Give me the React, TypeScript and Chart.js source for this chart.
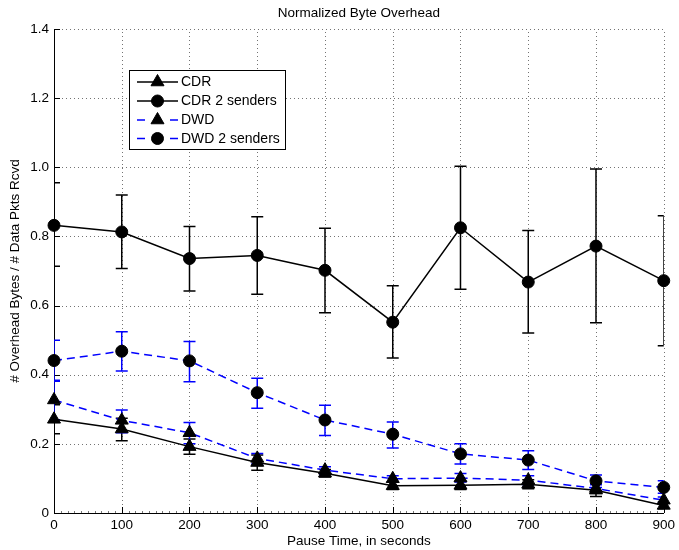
import React, { useEffect, useRef } from 'react';
import { Chart, registerables } from 'chart.js';

Chart.register(...registerables);

// ---- data ----
const pauseTimes = [0, 100, 200, 300, 400, 500, 600, 700, 800, 900];
const yTicks = [0, 0.2, 0.4, 0.6, 0.8, 1, 1.2, 1.4];

const cdr = [0.271, 0.243, 0.192, 0.146, 0.115, 0.079, 0.080, 0.083, 0.066, 0.022];
const cdrLow = [0.229, 0.209, 0.170, 0.124, 0.104, 0.068, 0.068, 0.070, 0.048, 0.012];
const cdrHigh = [0.313, 0.274, 0.214, 0.168, 0.126, 0.090, 0.092, 0.096, 0.084, 0.032];

const cdr2 = [0.832, 0.813, 0.736, 0.745, 0.702, 0.552, 0.825, 0.668, 0.772, 0.672];
const cdr2Low = [0.714, 0.707, 0.642, 0.633, 0.579, 0.448, 0.647, 0.521, 0.550, 0.484];
const cdr2High = [0.955, 0.920, 0.829, 0.857, 0.824, 0.657, 1.003, 0.817, 0.995, 0.860];

const dwd = [0.327, 0.268, 0.232, 0.158, 0.124, 0.099, 0.101, 0.095, 0.071, 0.037];
const dwdLow = [0.270, 0.232, 0.200, 0.142, 0.112, 0.090, 0.090, 0.082, 0.060, 0.028];
const dwdHigh = [0.384, 0.298, 0.262, 0.172, 0.134, 0.108, 0.114, 0.108, 0.082, 0.046];

const dwd2 = [0.441, 0.468, 0.440, 0.348, 0.269, 0.228, 0.171, 0.153, 0.093, 0.074];
const dwd2Low = [0.381, 0.411, 0.380, 0.303, 0.224, 0.188, 0.142, 0.126, 0.074, 0.057];
const dwd2High = [0.500, 0.524, 0.496, 0.390, 0.312, 0.263, 0.200, 0.180, 0.110, 0.093];

const seriesNames = ['CDR', 'CDR 2 senders', 'DWD', 'DWD 2 senders'];
const titleText = 'Normalized Byte Overhead';
const xLabel = 'Pause Time, in seconds';
const yLabel = '# Overhead Bytes / # Data Pkts Rcvd';

const FONT = '"Liberation Sans", Arial, Helvetica, sans-serif';
const BLUE = '#0000ff';
const DASH = [8, 5];

const errorSeries = [
  { low: cdrLow, high: cdrHigh, color: '#000000' },
  { low: cdr2Low, high: cdr2High, color: '#000000' },
  { low: dwdLow, high: dwdHigh, color: BLUE },
  { low: dwd2Low, high: dwd2High, color: BLUE },
];

const legendItems = [
  { label: seriesNames[0], style: 'triangle', color: '#000000', dashed: false },
  { label: seriesNames[1], style: 'circle', color: '#000000', dashed: false },
  { label: seriesNames[2], style: 'triangle', color: BLUE, dashed: true },
  { label: seriesNames[3], style: 'circle', color: BLUE, dashed: true },
];

const toPts = (vals: number[]) => vals.map((v, i) => ({ x: pauseTimes[i], y: v }));

function drawMarker(ctx: CanvasRenderingContext2D, style: string, x: number, y: number) {
  ctx.save();
  ctx.fillStyle = '#000';
  ctx.strokeStyle = '#000';
  ctx.lineWidth = 1;
  ctx.setLineDash([]);
  ctx.beginPath();
  if (style === 'circle') {
    ctx.arc(x, y, 6, 0, Math.PI * 2);
  } else {
    const r = 7.5;
    for (let k = 0; k < 3; k++) {
      const a = (k * 2 * Math.PI) / 3;
      const px = x + Math.sin(a) * r;
      const py = y - Math.cos(a) * r;
      if (k === 0) ctx.moveTo(px, py);
      else ctx.lineTo(px, py);
    }
    ctx.closePath();
  }
  ctx.fill();
  ctx.stroke();
  ctx.restore();
}

const decorPlugin = {
  id: 'decor',
  beforeDatasetsDraw(chart: any) {
    const { ctx, chartArea, scales } = chart;
    const xs = scales.x;
    const ys = scales.y;
    const { left, right, top, bottom } = chartArea;
    ctx.save();
    // dotted grid
    ctx.strokeStyle = 'rgba(0,0,0,0.55)';
    ctx.lineWidth = 1;
    ctx.setLineDash([1, 3]);
    pauseTimes.forEach((t) => {
      if (t === 0) return;
      const px = Math.round(xs.getPixelForValue(t)) + 0.5;
      ctx.beginPath();
      ctx.moveTo(px, bottom);
      ctx.lineTo(px, top);
      ctx.stroke();
    });
    yTicks.forEach((v) => {
      if (v === 0) return;
      const py = Math.round(ys.getPixelForValue(v)) + 0.5;
      ctx.beginPath();
      ctx.moveTo(left, py);
      ctx.lineTo(right, py);
      ctx.stroke();
    });
    ctx.setLineDash([]);
    // inward major ticks
    ctx.strokeStyle = '#000';
    yTicks.forEach((v) => {
      const py = Math.round(ys.getPixelForValue(v)) + 0.5;
      ctx.beginPath();
      ctx.moveTo(left, py);
      ctx.lineTo(left + 6, py);
      ctx.stroke();
    });
    pauseTimes.forEach((t) => {
      const px = Math.round(xs.getPixelForValue(t)) + 0.5;
      ctx.beginPath();
      ctx.moveTo(px, bottom);
      ctx.lineTo(px, bottom - 6);
      ctx.stroke();
    });
    // minor ticks on x
    ctx.strokeStyle = '#777';
    for (let t = 10; t < 900; t += 10) {
      if (t % 100 === 0) continue;
      const px = Math.round(xs.getPixelForValue(t)) + 0.5;
      ctx.beginPath();
      ctx.moveTo(px, bottom);
      ctx.lineTo(px, bottom - 2);
      ctx.stroke();
    }
    // error bars
    ctx.beginPath();
    ctx.rect(left, top - 20, right - left, bottom - top + 20);
    ctx.clip();
    ctx.lineWidth = 1.5;
    errorSeries.forEach((s) => {
      ctx.strokeStyle = s.color;
      pauseTimes.forEach((t, i) => {
        const px = xs.getPixelForValue(t);
        const yl = ys.getPixelForValue(s.low[i]);
        const yh = ys.getPixelForValue(s.high[i]);
        ctx.beginPath();
        ctx.moveTo(px, yl);
        ctx.lineTo(px, yh);
        ctx.moveTo(px - 6, yl);
        ctx.lineTo(px + 6, yl);
        ctx.moveTo(px - 6, yh);
        ctx.lineTo(px + 6, yh);
        ctx.stroke();
      });
    });
    ctx.restore();
  },
  afterDatasetsDraw(chart: any) {
    const { ctx } = chart;
    ctx.save();
    // legend box
    const bx = 129.5, by = 70.5, bw = 156, bh = 79;
    ctx.fillStyle = '#fff';
    ctx.fillRect(bx, by, bw, bh);
    ctx.strokeStyle = '#000';
    ctx.lineWidth = 1;
    ctx.strokeRect(bx, by, bw, bh);
    const rows = [82, 101, 120, 138.5];
    ctx.font = `14px ${FONT}`;
    ctx.textBaseline = 'middle';
    ctx.textAlign = 'left';
    legendItems.forEach((it, i) => {
      const y = rows[i];
      ctx.strokeStyle = it.color;
      ctx.lineWidth = 1.5;
      ctx.beginPath();
      if (it.dashed) {
        ctx.moveTo(137, y);
        ctx.lineTo(145, y);
        ctx.moveTo(170, y);
        ctx.lineTo(178, y);
      } else {
        ctx.moveTo(137, y);
        ctx.lineTo(178, y);
      }
      ctx.stroke();
      drawMarker(ctx, it.style, 157.5, y);
      ctx.fillStyle = '#000';
      ctx.fillText(it.label, 181, y + 0.5);
    });
    ctx.restore();
  },
  afterDraw(chart: any) {
    const { ctx, chartArea } = chart;
    const cx = (chartArea.left + chartArea.right) / 2;
    const cy = (chartArea.top + chartArea.bottom) / 2;
    ctx.save();
    ctx.fillStyle = '#000';
    ctx.font = `13.5px ${FONT}`;
    ctx.textAlign = 'center';
    ctx.textBaseline = 'middle';
    ctx.fillText(titleText, cx, 13);
    ctx.fillText(xLabel, cx, 541);
    ctx.translate(15, cy);
    ctx.rotate(-Math.PI / 2);
    ctx.fillText(yLabel, 0, 0);
    ctx.restore();
  },
};

export default function App() {
  const canvasRef = useRef<HTMLCanvasElement | null>(null);

  useEffect(() => {
    const canvas = canvasRef.current;
    if (!canvas) return;
    const common = { clip: false as any, borderWidth: 1.5, pointBorderWidth: 1, pointBackgroundColor: '#000', pointBorderColor: '#000' };
    const chart = new Chart(canvas, {
      type: 'line',
      data: {
        datasets: [
          { ...common, label: seriesNames[0], data: toPts(cdr), borderColor: '#000', pointStyle: 'triangle', pointRadius: 7.5, order: 3 },
          { ...common, label: seriesNames[1], data: toPts(cdr2), borderColor: '#000', pointStyle: 'circle', pointRadius: 6, order: 2 },
          { ...common, label: seriesNames[2], data: toPts(dwd), borderColor: BLUE, borderDash: DASH, pointStyle: 'triangle', pointRadius: 7.5, order: 1 },
          { ...common, label: seriesNames[3], data: toPts(dwd2), borderColor: BLUE, borderDash: DASH, pointStyle: 'circle', pointRadius: 6, order: 0 },
        ] as any,
      },
      options: {
        animation: false,
        responsive: false,
        devicePixelRatio: 1,
        events: [],
        layout: { padding: { top: 29, right: 12, left: 0, bottom: 0 } },
        plugins: { legend: { display: false }, tooltip: { enabled: false }, title: { display: false } },
        scales: {
          x: {
            type: 'linear',
            min: 0,
            max: 900,
            grid: { display: false, drawTicks: false },
            border: { display: true, color: '#000', width: 1 },
            ticks: { stepSize: 100, padding: 4, color: '#000', font: { family: FONT, size: 13.5 }, maxRotation: 0 },
            afterFit: (s: any) => { s.height = 37; },
          },
          y: {
            type: 'linear',
            min: 0,
            max: 1.4,
            grid: { display: false, drawTicks: false },
            border: { display: true, color: '#000', width: 1 },
            ticks: { stepSize: 0.2, padding: 5, color: '#000', font: { family: FONT, size: 13.5 } },
            afterFit: (s: any) => { s.width = 54; },
          },
        },
      } as any,
      plugins: [decorPlugin],
    });
    return () => chart.destroy();
  }, []);

  return (
    <div style={{ position: 'absolute', left: 0, top: 0, width: 679, height: 550, background: '#fff' }}>
      <canvas ref={canvasRef} width={679} height={550} style={{ display: 'block', width: 679, height: 550 }} />
    </div>
  );
}
